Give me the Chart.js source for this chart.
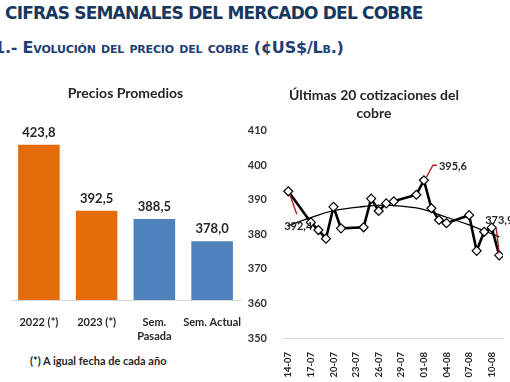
<!DOCTYPE html>
<html>
<head>
<meta charset="utf-8">
<script src="https://cdn.jsdelivr.net/npm/chart.js@4.4.0/dist/chart.umd.min.js"></script>
<style>
  html, body { margin: 0; padding: 0; background: #fff; width: 510px; height: 382px; overflow: hidden; }
  #titulo { position: absolute; left: 5px; top: 3px; font: bold 17px "DejaVu Sans"; letter-spacing: -0.8px; color: #17375E; white-space: nowrap; }
  #subtitulo { position: absolute; left: -6px; top: 38px; font: bold 16px "DejaVu Sans"; letter-spacing: -0.2px; font-variant: small-caps; color: #1F3F73; white-space: nowrap; }
  #nota { position: absolute; left: 30px; top: 354px; font: bold 11px Lato; color: #262626; }
  #c1 { position: absolute; left: 0; top: 75px; }
  #c2 { position: absolute; left: 245px; top: 78px; }
</style>
</head>
<body>
<div id="titulo">CIFRAS SEMANALES DEL MERCADO DEL COBRE</div>
<div id="subtitulo">1.- Evolución del precio del cobre (¢US$/Lb.)</div>
<canvas id="c1" width="255" height="265"></canvas>
<canvas id="c2" width="265" height="304"></canvas>
<div id="nota">(*) A igual fecha de cada año</div>
<script>
// Precios promedios
const categorias = ['2022 (*)', '2023 (*)', ['Sem.', 'Pasada'], 'Sem. Actual'];
const promedios = [423.8, 392.5, 388.5, 378.0];

// Ultimas cotizaciones (dd-mm, 2023)
const fechas = ['14-07', '17-07', '18-07', '19-07', '20-07', '21-07', '24-07', '25-07', '26-07', '27-07', '28-07',
    '31-07', '01-08', '02-08', '03-08', '04-08', '07-08', '08-08', '09-08', '10-08', '11-08'];
const precios = [392.4, 383.4, 381.2, 378.7, 387.9, 381.7, 382.0, 390.3, 386.7, 388.9, 389.5,
    391.4, 395.6, 387.5, 384.1, 383.2, 385.5, 375.2, 380.7, 381.9, 373.9];

// Tendencia
const fechasTend = ['14-07', '17-07', '20-07', '24-07', '27-07', '31-07', '02-08', '04-08', '07-08', '09-08', '11-08'];
const valoresTend = [382.5, 384.8, 386.8, 388.0, 388.4, 387.6, 386.4, 384.9, 382.7, 381.0, 379.2];

const ticksFechas = ['14-07', '17-07', '20-07', '23-07', '26-07', '29-07', '01-08', '04-08', '07-08', '10-08'];

const fmt = v => v.toFixed(1).replace('.', ',');
const dia = f => {
    const [d, m] = f.split('-').map(Number);
    return (Date.UTC(2023, m - 1, d) - Date.UTC(2023, 6, 14)) / 86400000;
};

const NARANJA = '#E46C0A';
const AZUL = '#4F81BD';
const TEXTO = '#262626';

// etiquetas sobre las barras
const etiquetasBarras = {
    id: 'etiquetasBarras',
    afterDatasetsDraw(chart) {
        const ctx = chart.ctx;
        const meta = chart.getDatasetMeta(0);
        ctx.save();
        ctx.font = 'bold 13px Lato';
        ctx.fillStyle = TEXTO;
        ctx.textAlign = 'center';
        ctx.textBaseline = 'middle';
        meta.data.forEach((bar, i) => {
            ctx.fillText(fmt(promedios[i]), bar.x, bar.y - 12);
        });
        ctx.restore();
    }
};

new Chart(document.getElementById('c1'), {
    type: 'bar',
    data: {
        labels: categorias,
        datasets: [{
            data: promedios,
            backgroundColor: (c) => c.dataIndex < 2 ? NARANJA : AZUL,
            barPercentage: 0.72,
            categoryPercentage: 1
        }]
    },
    options: {
        responsive: false,
        animation: false,
        layout: { padding: { left: 10, right: 14 } },
        plugins: {
            legend: { display: false },
            tooltip: { enabled: false },
            title: {
                display: true,
                text: 'Precios Promedios',
                color: TEXTO,
                font: { family: 'Lato', size: 14, weight: 'bold', lineHeight: 1.2 },
                padding: { top: 10, bottom: 9 }
            }
        },
        scales: {
            x: {
                grid: { display: false },
                border: { color: '#D9D9D9' },
                ticks: {
                    color: TEXTO,
                    padding: 8,
                    minRotation: 0,
                    maxRotation: 0,
                    autoSkip: false,
                    font: { family: 'Lato', size: 11, weight: 'bold', lineHeight: 1.25 }
                },
                afterFit: (s) => { s.height = 40; }
            },
            y: { display: false, min: 350, max: 440 }
        }
    },
    plugins: [etiquetasBarras]
});

// etiquetas de primer, maximo y ultimo valor
const etiquetasLinea = {
    id: 'etiquetasLinea',
    afterDatasetsDraw(chart) {
        const ctx = chart.ctx;
        const pts = chart.getDatasetMeta(1).data;
        const iMax = precios.indexOf(Math.max(...precios));
        const marcas = [
            { i: 0, lin: [[1.5, 3], [8.5, 23]], tx: 10, ty: 35, align: 'center' },
            { i: iMax, lin: [[2.5, -3], [9, -15], [13, -15]], tx: 15, ty: -14, align: 'left' },
            { i: precios.length - 1, lin: [[0, -2], [-3, -27]], tx: -14, ty: -35, align: 'left' }
        ];
        ctx.save();
        marcas.forEach(m => {
            const p = pts[m.i];
            ctx.strokeStyle = '#B0202A';
            ctx.lineWidth = 1.4;
            ctx.beginPath();
            m.lin.forEach(([dx, dy], k) => {
                if (k === 0) ctx.moveTo(p.x + dx, p.y + dy);
                else ctx.lineTo(p.x + dx, p.y + dy);
            });
            ctx.stroke();
            ctx.font = 'bold 11px Lato';
            ctx.fillStyle = TEXTO;
            ctx.textAlign = m.align;
            ctx.textBaseline = 'middle';
            ctx.fillText(fmt(precios[m.i]), p.x + m.tx, p.y + m.ty);
        });
        ctx.restore();
    }
};

new Chart(document.getElementById('c2'), {
    type: 'line',
    data: {
        datasets: [{
            data: fechasTend.map((f, i) => ({ x: dia(f), y: valoresTend[i] })),
            borderColor: '#000',
            borderWidth: 1.3,
            pointRadius: 0,
            tension: 0.4,
            order: 2
        }, {
            data: fechas.map((f, i) => ({ x: dia(f), y: precios[i] })),
            borderColor: '#000',
            borderWidth: 2.6,
            tension: 0,
            pointStyle: 'rectRot',
            pointRadius: 4.5,
            pointBackgroundColor: '#fff',
            pointBorderColor: '#000',
            pointBorderWidth: 1.2,
            order: 1
        }]
    },
    options: {
        responsive: false,
        animation: false,
        layout: { padding: { right: 7 } },
        plugins: {
            legend: { display: false },
            tooltip: { enabled: false },
            title: {
                display: true,
                text: ['Últimas 20 cotizaciones del', 'cobre'],
                color: TEXTO,
                font: { family: 'Lato', size: 14, weight: 'bold', lineHeight: 1.3 },
                padding: { top: 8, bottom: 8 }
            }
        },
        scales: {
            x: {
                type: 'linear',
                min: -0.7,
                max: 28.5,
                grid: { display: false },
                border: { color: '#D9D9D9' },
                afterBuildTicks: (s) => { s.ticks = ticksFechas.map(f => ({ value: dia(f) })); },
                ticks: {
                    minRotation: 90,
                    maxRotation: 90,
                    color: TEXTO,
                    padding: 6,
                    font: { family: 'Lato', size: 9.5, weight: 'bold' },
                    callback: (v) => ticksFechas.find(f => dia(f) === v) || ''
                },
                afterFit: (s) => { s.height = 44; }
            },
            y: {
                min: 350,
                max: 410,
                grid: { display: false },
                border: { display: false },
                ticks: { stepSize: 10, color: '#333333', padding: 8, font: { family: 'Lato', size: 11, weight: 'bold' } },
                afterFit: (s) => { s.width = 38; }
            }
        }
    },
    plugins: [etiquetasLinea]
});
</script>
</body>
</html>
